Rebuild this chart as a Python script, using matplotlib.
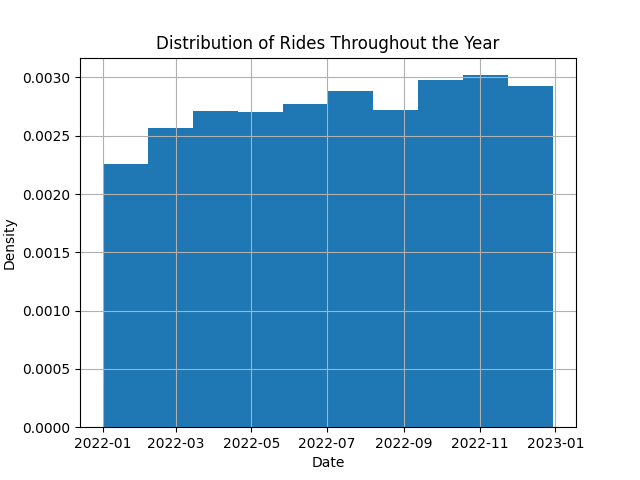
import numpy as np
import matplotlib
matplotlib.use("Agg")
import matplotlib.pyplot as plt
import matplotlib.dates as mdates

# histogram range (first ride / last ride) and bin heights (density per day)
first_ride = np.datetime64("2022-01-01T00:00")
last_ride = np.datetime64("2022-12-30T09:00")
densities = [0.002255, 0.002564, 0.002710, 0.002701, 0.002772,
             0.002881, 0.002718, 0.002976, 0.003019, 0.002924]


def main():
    start = mdates.date2num(first_ride)
    end = mdates.date2num(last_ride)
    edges = np.linspace(start, end, len(densities) + 1)
    centers = (edges[:-1] + edges[1:]) / 2

    fig, ax = plt.subplots(figsize=(6.4, 4.8), dpi=100)
    ax.hist(centers, bins=edges, weights=densities, color="#1f77b4")
    ax.xaxis_date()
    ax.xaxis.set_major_locator(mdates.MonthLocator(bymonth=[1, 3, 5, 7, 9, 11]))
    ax.xaxis.set_major_formatter(mdates.DateFormatter("%Y-%m"))

    ax.set_title("Distribution of Rides Throughout the Year")
    ax.set_xlabel("Date")
    ax.set_ylabel("Density")
    ax.grid(True)

    fig.savefig("out.png")


if __name__ == "__main__":
    main()
